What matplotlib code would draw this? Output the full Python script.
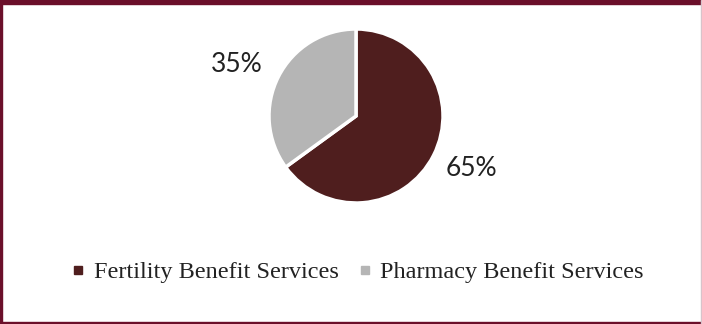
import matplotlib.pyplot as plt
from matplotlib.lines import Line2D
from matplotlib.patches import Rectangle

labels = ['Fertility Benefit Services', 'Pharmacy Benefit Services']
shares = [65, 35]
colors = ['#4F1E1E', '#B5B5B5']

plt.rcParams['font.family'] = ['Liberation Serif', 'DejaVu Serif']

fig = plt.figure(figsize=(7.02, 3.24), dpi=100)
W, H = 702, 324

# pie axes: centre ~ (356, 116), radius ~ 87 px
r = 87
cx, cy = 356, 116
ax = fig.add_axes([(cx - r) / W, 1 - (cy + r) / H, 2 * r / W, 2 * r / H])
wedges, _ = ax.pie(shares, colors=colors, startangle=90, counterclock=False,
                   wedgeprops=dict(edgecolor='white', linewidth=2.5))
ax.set_xlim(-1, 1)
ax.set_ylim(-1, 1)
ax.set_aspect('equal')

# percentage labels outside the slices (pixel positions)
pct_font = dict(family=['Lato', 'DejaVu Sans'], fontsize=19, color='#222222',
                ha='center', va='center')
fig.text(471 / W, 1 - 168 / H, f'{shares[0]}%', **pct_font)
fig.text(237 / W, 1 - 65 / H, f'{shares[1]}%', **pct_font)

# legend along the bottom with small square keys
handles = [Line2D([], [], marker='s', ls='', color=c, markersize=6) for c in colors]
leg = fig.legend(handles, labels, loc='center', bbox_to_anchor=(0.511, 1 - 272 / H),
                 ncol=2, frameon=False, fontsize=17.5, handlelength=0.4,
                 handletextpad=0.45, columnspacing=0.85)
for t in leg.get_texts():
    t.set_color('#222222')

# maroon frame (right edge only a faint line)
frame = '#6B0F2A'
fig.patches.append(Rectangle((0, 1 - 4 / H), 1, 4 / H, transform=fig.transFigure,
                             color=frame, zorder=0))
fig.patches.append(Rectangle((0, 0), 2 / W, 1, transform=fig.transFigure,
                             color=frame, zorder=0))
fig.patches.append(Rectangle((0, 0), 1, 2.5 / H, transform=fig.transFigure,
                             color=frame, zorder=0))
fig.patches.append(Rectangle((1 - 1.5 / W, 0), 1.5 / W, 1, transform=fig.transFigure,
                             color='#D8C3CA', zorder=0))

fig.savefig('out.png', dpi=100)
